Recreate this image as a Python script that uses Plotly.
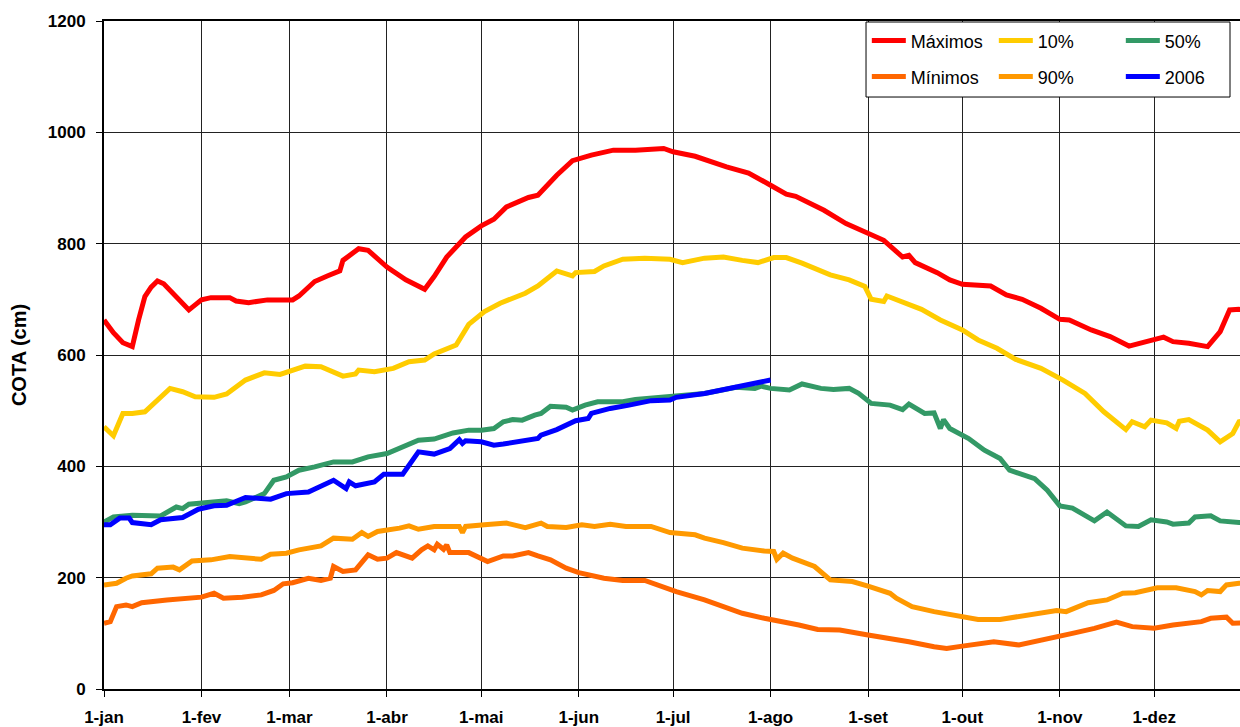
import plotly.graph_objects as go

# ---- data (day of year, cota in cm) ----
month_ticks = [0, 31, 59, 90, 120, 151, 181, 212, 243, 273, 304, 334]
month_labels = ["1-jan", "1-fev", "1-mar", "1-abr", "1-mai", "1-jun",
                "1-jul", "1-ago", "1-set", "1-out", "1-nov", "1-dez"]
y_ticks = [0, 200, 400, 600, 800, 1000, 1200]

max_days = [0, 3, 6, 9, 11, 13, 15, 17, 19, 22, 25, 27, 29, 31, 34, 40, 42, 46, 52, 60, 62, 67, 71, 75, 76,
            79, 81, 84, 90, 96, 102, 105, 109, 115, 120, 124, 128, 135, 138, 144, 149, 155, 162, 169, 178,
            181, 188, 198, 205, 212, 217, 220, 229, 236, 244, 248, 254, 256, 258, 265, 269, 273, 282, 287,
            292, 298, 304, 307, 314, 320, 326, 333, 337, 340, 345, 351, 355, 358, 361, 365]
max_vals = [663, 640, 622, 615, 663, 705, 722, 733, 728, 711, 693, 681, 690, 699, 703, 703, 697, 694, 699, 699,
            706, 732, 742, 751, 770, 782, 791, 788, 758, 735, 718, 741, 776, 812, 832, 844, 866, 883, 887, 923,
            949, 959, 968, 968, 971, 965, 957, 938, 927, 905, 889, 885, 860, 836, 815, 806, 776, 779, 766, 748,
            735, 727, 724, 708, 700, 684, 664, 663, 645, 633, 616, 627, 632, 624, 621, 615, 642, 681, 682, 680]

p10_days = [0, 3, 6, 9, 13, 17, 21, 25, 29, 35, 39, 45, 51, 56, 64, 69, 76, 80, 81, 86, 92, 97, 102, 105,
            112, 116, 121, 126, 134, 138, 144, 149, 150, 156, 159, 165, 172, 180, 184, 191, 197, 203, 208,
            213, 217, 222, 231, 237, 242, 244, 248, 249, 255, 260, 266, 273, 278, 284, 290, 298, 305, 312,
            318, 325, 327, 331, 333, 338, 341, 342, 345, 351, 355, 359, 361, 365]
p10_vals = [471, 455, 495, 495, 498, 519, 540, 534, 525, 524, 530, 555, 568, 565, 580, 579, 562, 566, 573, 570,
            576, 588, 591, 602, 618, 655, 678, 693, 711, 724, 751, 742, 748, 750, 760, 772, 774, 772, 766, 774,
            776, 770, 766, 775, 775, 765, 744, 735, 723, 700, 696, 706, 693, 682, 663, 645, 627, 612, 592, 576,
            555, 531, 498, 466, 480, 471, 483, 478, 468, 481, 484, 465, 444, 459, 480, 485]

p50_days = [0, 3, 9, 15, 18, 23, 25, 27, 34, 39, 43, 45, 51, 54, 58, 62, 67, 73, 79, 84, 90, 94, 100, 105,
            111, 116, 120, 124, 127, 130, 133, 137, 139, 142, 147, 149, 153, 157, 161, 165, 169, 180, 191,
            201, 207, 209, 212, 218, 222, 228, 232, 237, 240, 244, 250, 254, 256, 261, 264, 266, 267, 269,
            275, 280, 285, 288, 296, 300, 304, 308, 315, 319, 325, 329, 333, 338, 340, 345, 347, 352, 355,
            361, 365]
p50_vals = [300, 309, 312, 312, 311, 327, 324, 332, 335, 338, 333, 336, 351, 375, 381, 393, 399, 408, 408, 417,
            423, 432, 447, 449, 460, 465, 465, 468, 480, 484, 483, 492, 495, 508, 506, 501, 510, 516, 516, 516,
            520, 526, 531, 542, 540, 544, 540, 537, 548, 540, 538, 540, 531, 513, 510, 502, 512, 495, 496, 468,
            484, 468, 450, 429, 414, 393, 378, 357, 329, 325, 302, 318, 293, 292, 304, 300, 296, 298, 309, 311,
            302, 299, 300]

min_days = [0, 2, 4, 7, 9, 12, 20, 25, 31, 35, 38, 44, 50, 54, 57, 60, 65, 69, 72, 73, 76, 80, 84, 87, 90,
            93, 98, 101, 103, 105, 106, 108, 109, 110, 116, 122, 127, 130, 135, 138, 142, 147, 151, 159,
            165, 172, 176, 182, 191, 199, 203, 210, 218, 221, 227, 234, 243, 250, 256, 264, 268, 273, 279,
            283, 291, 298, 304, 308, 315, 322, 327, 334, 340, 349, 352, 357, 359, 361, 365]
min_vals = [118, 121, 148, 151, 148, 155, 160, 163, 165, 172, 163, 165, 169, 177, 189, 191, 199, 195, 199, 220,
            211, 214, 241, 233, 235, 245, 235, 250, 257, 250, 260, 251, 259, 245, 245, 229, 239, 239, 245, 239,
            232, 217, 209, 199, 195, 195, 187, 175, 160, 145, 136, 127, 119, 115, 107, 106, 97, 91, 85, 76,
            73, 77, 81, 85, 79, 87, 95, 100, 109, 120, 112, 109, 115, 121, 127, 129, 118, 119, 119]

p90_days = [0, 4, 7, 9, 15, 17, 22, 24, 28, 34, 40, 50, 53, 58, 62, 69, 73, 79, 82, 84, 87, 92, 94, 97, 100,
            105, 113, 114, 115, 121, 128, 134, 139, 141, 147, 152, 156, 161, 166, 174, 180, 188, 191, 197,
            203, 210, 213, 214, 216, 219, 226, 231, 238, 243, 250, 252, 257, 264, 272, 278, 285, 291, 298,
            303, 306, 313, 319, 324, 328, 335, 341, 347, 349, 351, 355, 357, 361, 365]
p90_vals = [187, 190, 199, 203, 207, 217, 219, 214, 230, 232, 238, 233, 242, 244, 250, 257, 271, 269, 281, 274,
            283, 286, 289, 293, 287, 292, 292, 281, 292, 295, 298, 290, 298, 292, 290, 295, 292, 296, 292, 292,
            281, 277, 271, 263, 253, 248, 247, 233, 244, 235, 220, 196, 193, 185, 172, 163, 148, 139, 131, 125,
            125, 130, 137, 141, 139, 155, 160, 172, 173, 182, 182, 175, 169, 177, 175, 187, 190, 191]

y2006_days = [0, 2, 5, 8, 9, 15, 18, 25, 30, 35, 39, 45, 53, 58, 65, 73, 77, 78, 80, 86, 89, 95, 100, 104,
              105, 110, 113, 114, 115, 120, 124, 127, 132, 138, 139, 144, 150, 154, 155, 161, 167, 174, 180,
              182, 191, 197, 203, 208, 212]
y2006_vals = [295, 295, 307, 307, 299, 295, 304, 308, 323, 329, 330, 344, 341, 351, 354, 375, 360, 372, 365,
              372, 386, 386, 426, 424, 422, 432, 448, 441, 446, 444, 438, 440, 444, 450, 456, 466, 482, 486,
              495, 504, 510, 518, 519, 524, 531, 538, 546, 550, 555]

series = [
    ("Máximos", max_days, max_vals, "#FF0000", "legend"),
    ("10%", p10_days, p10_vals, "#FFCC00", "legend"),
    ("50%", p50_days, p50_vals, "#339966", "legend"),
    ("Mínimos", min_days, min_vals, "#FF6600", "legend2"),
    ("90%", p90_days, p90_vals, "#FF9900", "legend2"),
    ("2006", y2006_days, y2006_vals, "#0000FF", "legend2"),
]

FONT = "Liberation Sans, Arial, sans-serif"

fig = go.Figure()
for name, d, v, c, lg in series:
    fig.add_trace(go.Scatter(x=d, y=v, mode="lines", name=name, legend=lg,
                             line=dict(color=c, width=5)))

leg_common = dict(
    orientation="h", xanchor="left", yanchor="top",
    bgcolor="rgba(0,0,0,0)", borderwidth=0,
    entrywidth=78, entrywidthmode="pixels", itemwidth=34,
    font=dict(family=FONT, size=18, color="black"),
    traceorder="normal",
)

fig.update_layout(
    width=1240, height=727,
    margin=dict(l=104, r=0, t=21, b=38, autoexpand=False),
    paper_bgcolor="white", plot_bgcolor="white",
    font=dict(family=FONT, color="black"),
    showlegend=True,
    legend=dict(x=0.6715, y=0.998, **leg_common),
    legend2=dict(x=0.6715, y=0.944, **leg_common),
    shapes=[dict(type="rect", xref="paper", yref="paper",
                 x0=0.6708, x1=0.9912, y0=0.8862, y1=0.9985,
                 line=dict(color="black", width=1), fillcolor="white", layer="above")],
)

fig.update_xaxes(
    range=[0, 361.3], tickmode="array", tickvals=month_ticks, ticktext=month_labels,
    showgrid=True, gridcolor="#222222", gridwidth=1,
    showline=True, linecolor="black", linewidth=2, mirror=True,
    ticks="outside", ticklen=6, tickcolor="black", tickwidth=1,
    ticklabelstandoff=6,
    tickfont=dict(family=FONT, size=17, color="black", weight="bold"),
    zeroline=False,
)
fig.update_yaxes(
    range=[0, 1200], tickmode="array", tickvals=y_ticks,
    ticktext=[str(t) for t in y_ticks],
    showgrid=True, gridcolor="#222222", gridwidth=1,
    showline=True, linecolor="black", linewidth=2,
    ticks="outside", ticklen=6, tickcolor="black", tickwidth=1,
    ticklabelstandoff=7,
    tickfont=dict(family=FONT, size=17, color="black", weight="bold"),
    title=dict(text="COTA (cm)", font=dict(family=FONT, size=20, color="black", weight="bold"),
               standoff=16),
    zeroline=False,
)

fig.write_html(
    "out.html",
    config={"responsive": False, "displayModeBar": False},
    post_script="document.body.style.margin='0';document.body.style.overflow='hidden';",
)
